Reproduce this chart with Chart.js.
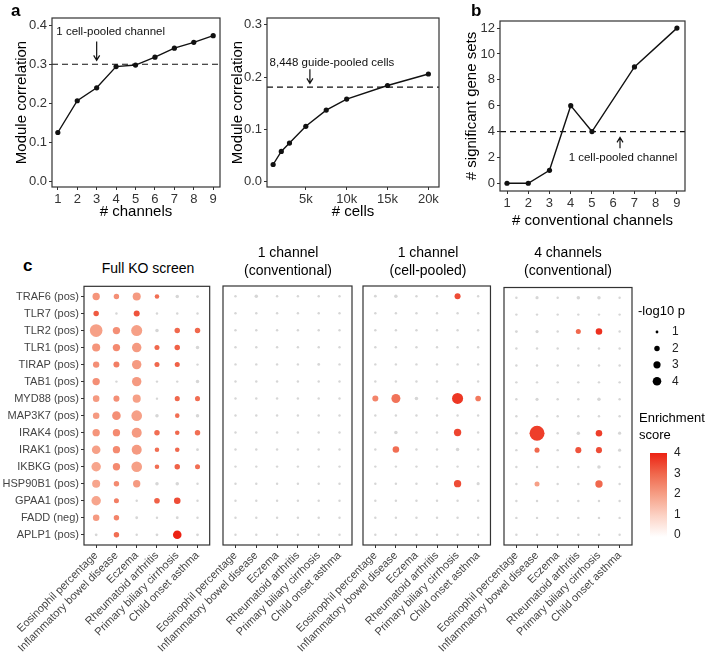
<!DOCTYPE html>
<html lang="en">
<head>
<meta charset="UTF-8">
<title>Module correlation and gene set enrichment</title>
<script src="https://cdn.jsdelivr.net/npm/chart.js"></script>
<style>
  body { margin: 0; background: #fff; font-family: 'Liberation Sans', Arial, sans-serif; }
  #fig { position: relative; width: 708px; height: 658px; overflow: hidden; }
  canvas { position: absolute; }
  .tag { position: absolute; font-weight: bold; font-size: 17px; color: #000; }
  .ttl { position: absolute; font-size: 14px; line-height: 18px; text-align: center; white-space: nowrap; transform: translateX(-50%); color: #000; }
</style>
</head>
<body>
<div id="fig">
  <canvas id="aLeft" width="230" height="224" style="left:0;top:0"></canvas>
  <canvas id="aRight" width="222" height="224" style="left:226px;top:0"></canvas>
  <canvas id="bChart" width="240" height="233" style="left:458px;top:0"></canvas>
  <canvas id="c1" width="216" height="378" style="left:0;top:280px"></canvas>
  <canvas id="c2" width="233" height="378" style="left:123px;top:280px"></canvas>
  <canvas id="c3" width="233" height="378" style="left:263px;top:280px"></canvas>
  <canvas id="c4" width="304" height="378" style="left:404px;top:280px"></canvas>

  <div class="tag" style="left:11px;top:1px">a</div>
  <div class="tag" style="left:471px;top:1px">b</div>
  <div class="tag" style="left:23px;top:256px">c</div>
  <div class="ttl" style="left:148px;top:259px">Full KO screen</div>
  <div class="ttl" style="left:288px;top:243px">1 channel<br>(conventional)</div>
  <div class="ttl" style="left:428px;top:243px">1 channel<br>(cell-pooled)</div>
  <div class="ttl" style="left:568px;top:243px">4 channels<br>(conventional)</div>
</div>

<script>
// ---- panel a ----
const channels = [1, 2, 3, 4, 5, 6, 7, 8, 9];
const corrByChannels = [0.126, 0.207, 0.240, 0.294, 0.298, 0.318, 0.341, 0.356, 0.373];
const cellPooledCorr = 0.3;

const cellCounts = [1000, 2000, 3000, 5000, 7500, 10000, 15000, 20000];
const corrByCells = [0.033, 0.058, 0.074, 0.106, 0.137, 0.158, 0.184, 0.206];
const guidePooledCorr = 0.181;

// ---- panel b ----
const convChannels = [1, 2, 3, 4, 5, 7, 9];
const sigGeneSets = [0, 0, 1, 6, 4, 9, 12];
const cellPooledSig = 4;

// ---- panel c ----
const genes = ['TRAF6 (pos)', 'TLR7 (pos)', 'TLR2 (pos)', 'TLR1 (pos)', 'TIRAP (pos)', 'TAB1 (pos)',
  'MYD88 (pos)', 'MAP3K7 (pos)', 'IRAK4 (pos)', 'IRAK1 (pos)', 'IKBKG (pos)', 'HSP90B1 (pos)',
  'GPAA1 (pos)', 'FADD (neg)', 'APLP1 (pos)'];
const traits = ['Eosinophil percentage', 'Inflammatory bowel disease', 'Eczema',
  'Rheumatoid arthritis', 'Primary biliary cirrhosis', 'Child onset asthma'];

// -log10 p, one row per gene, one column per trait
const fullKoLogP = [
  [3.1, 2.0, 3.6, 1.6, 1.2, 1.0],
  [2.0, 0.8, 2.3, 0.7, 0.8, 0.8],
  [7.9, 3.1, 6.2, 1.2, 2.0, 2.0],
  [3.6, 3.1, 4.7, 1.8, 2.0, 1.2],
  [2.5, 2.3, 4.7, 1.8, 1.8, 0.8],
  [3.1, 0.8, 4.7, 0.8, 0.8, 1.2],
  [2.6, 2.3, 3.6, 0.9, 1.8, 1.8],
  [2.6, 4.0, 5.8, 1.2, 1.6, 1.2],
  [3.1, 3.1, 5.2, 2.0, 1.6, 2.0],
  [4.0, 3.1, 5.2, 1.6, 1.6, 1.0],
  [4.7, 3.1, 5.8, 1.6, 2.0, 1.8],
  [3.6, 2.0, 3.1, 1.2, 1.2, 0.9],
  [4.7, 1.8, 0.9, 2.1, 2.6, 0.8],
  [2.6, 2.0, 1.0, 0.9, 1.0, 0.9],
  [1.0, 2.0, 0.9, 1.0, 4.0, 1.0]
];
// enrichment score, null = not significant (grey)
const fullKoScore = [
  [2.2, 2.3, 2.1, 2.9, null, null],
  [3.2, null, 3.3, null, null, null],
  [2.0, 2.3, 2.0, null, 3.0, 3.0],
  [2.2, 2.4, 2.1, 3.0, 3.1, null],
  [2.3, 2.6, 2.1, 3.0, 3.1, null],
  [2.3, null, 2.1, null, null, null],
  [2.1, 2.3, 2.0, null, 3.0, 2.9],
  [2.1, 2.3, 2.0, null, 2.9, null],
  [2.2, 2.4, 2.1, 2.9, 3.0, 2.9],
  [2.0, 2.4, 2.1, 2.9, 3.0, null],
  [1.9, 2.4, 2.0, 2.9, 3.1, 2.9],
  [1.9, 2.4, 2.1, null, null, null],
  [1.9, 2.6, null, 3.1, 3.4, null],
  [2.1, 2.5, null, null, null, null],
  [null, 2.9, null, null, 4.0, null]
];

const conv1LogP = [
  [0.9, 1.2, 0.9, 0.9, 0.9, 0.9],
  [0.8, 0.9, 0.8, 0.9, 0.8, 0.8],
  [0.8, 0.9, 0.8, 0.8, 0.9, 0.8],
  [0.8, 0.8, 0.8, 0.8, 0.8, 0.8],
  [0.8, 0.9, 0.8, 0.8, 1.0, 0.8],
  [0.8, 0.8, 0.8, 0.8, 0.8, 0.8],
  [0.8, 0.9, 0.8, 0.8, 0.8, 0.8],
  [0.8, 0.8, 0.8, 0.8, 0.8, 0.8],
  [0.8, 0.8, 0.8, 0.8, 0.8, 0.8],
  [0.8, 0.9, 0.8, 0.8, 0.8, 0.8],
  [0.8, 0.8, 0.8, 0.8, 0.8, 0.8],
  [0.8, 0.8, 0.8, 0.8, 0.8, 0.8],
  [0.8, 0.8, 0.8, 0.8, 0.8, 0.8],
  [0.8, 0.8, 0.8, 0.8, 0.8, 0.8],
  [0.8, 0.8, 0.8, 0.8, 0.8, 0.8]
];
const conv1Score = [
  [null, null, null, null, null, null],
  [null, null, null, null, null, null],
  [null, null, null, null, null, null],
  [null, null, null, null, null, null],
  [null, null, null, null, null, null],
  [null, null, null, null, null, null],
  [null, null, null, null, null, null],
  [null, null, null, null, null, null],
  [null, null, null, null, null, null],
  [null, null, null, null, null, null],
  [null, null, null, null, null, null],
  [null, null, null, null, null, null],
  [null, null, null, null, null, null],
  [null, null, null, null, null, null],
  [null, null, null, null, null, null]
];

const pooled1LogP = [
  [1.0, 1.2, 0.8, 0.8, 2.3, 0.8],
  [0.8, 0.8, 0.8, 0.8, 0.8, 0.8],
  [0.8, 0.8, 0.8, 0.8, 0.8, 0.8],
  [0.8, 0.8, 0.8, 0.8, 0.8, 0.8],
  [0.8, 0.8, 0.8, 0.8, 0.8, 0.8],
  [0.8, 0.8, 0.8, 0.8, 0.8, 0.8],
  [2.3, 4.3, 1.2, 0.9, 6.2, 2.1],
  [0.8, 0.8, 0.8, 0.8, 0.8, 0.8],
  [0.8, 1.2, 0.8, 0.8, 3.1, 0.8],
  [0.8, 2.6, 0.8, 0.8, 1.2, 0.8],
  [0.8, 0.8, 0.8, 0.8, 0.8, 0.8],
  [0.8, 0.8, 0.8, 0.8, 3.1, 1.1],
  [0.8, 0.8, 0.8, 0.8, 0.8, 0.8],
  [0.8, 0.8, 0.8, 0.8, 0.8, 0.8],
  [0.8, 0.8, 0.8, 0.8, 0.8, 0.8]
];
const pooled1Score = [
  [null, null, null, null, 3.4, null],
  [null, null, null, null, null, null],
  [null, null, null, null, null, null],
  [null, null, null, null, null, null],
  [null, null, null, null, null, null],
  [null, null, null, null, null, null],
  [2.5, 2.8, null, null, 3.7, 2.7],
  [null, null, null, null, null, null],
  [null, null, null, null, 3.5, null],
  [null, 2.9, null, null, null, null],
  [null, null, null, null, null, null],
  [null, null, null, null, 3.4, null],
  [null, null, null, null, null, null],
  [null, null, null, null, null, null],
  [null, null, null, null, null, null]
];

const conv4LogP = [
  [0.9, 1.1, 0.9, 1.2, 1.2, 0.9],
  [0.8, 0.8, 0.8, 0.8, 0.8, 0.8],
  [1.0, 1.1, 0.9, 1.8, 2.6, 0.9],
  [0.8, 0.8, 0.8, 0.8, 0.8, 0.8],
  [0.8, 0.8, 0.8, 0.8, 0.8, 0.8],
  [0.8, 0.8, 0.8, 0.8, 0.8, 0.8],
  [0.8, 1.1, 0.8, 0.9, 1.2, 0.8],
  [0.8, 0.8, 0.8, 0.8, 0.8, 0.8],
  [1.0, 10.9, 0.8, 1.2, 2.6, 1.1],
  [0.9, 1.8, 0.8, 2.3, 2.3, 1.1],
  [0.8, 0.8, 0.8, 0.8, 1.2, 0.8],
  [0.8, 1.8, 0.8, 0.9, 3.1, 0.8],
  [0.8, 0.8, 0.8, 0.8, 0.8, 0.8],
  [0.8, 0.8, 0.8, 0.8, 0.8, 0.8],
  [0.8, 0.8, 0.8, 0.8, 0.8, 0.8]
];
const conv4Score = [
  [null, null, null, null, null, null],
  [null, null, null, null, null, null],
  [null, null, null, 3.0, 3.8, null],
  [null, null, null, null, null, null],
  [null, null, null, null, null, null],
  [null, null, null, null, null, null],
  [null, null, null, null, null, null],
  [null, null, null, null, null, null],
  [null, 3.6, null, null, 3.6, null],
  [null, 3.0, null, 3.3, 3.4, null],
  [null, null, null, null, null, null],
  [null, 2.0, null, null, 3.0, null],
  [null, null, null, null, null, null],
  [null, null, null, null, null, null],
  [null, null, null, null, null, null]
];

const sizeBreaks = [1, 2, 3, 4];
const scoreBreaks = [0, 1, 2, 3, 4];

// ---- styling ----
Chart.defaults.font.family = "'Liberation Sans', Arial, sans-serif";
Chart.defaults.color = '#333';
Chart.defaults.animation = false;
Chart.defaults.plugins.legend.display = false;
Chart.defaults.plugins.tooltip.enabled = false;

const ink = '#111';
const naGrey = '#d6d6d6';
const rampStops = ['#ffffff', '#fcd3c6', '#f6a087', '#f0684d', '#ec2213'];

function hexRgb(h) {
  return [1, 3, 5].map(i => parseInt(h.slice(i, i + 2), 16));
}
function scoreColour(v) {
  const t = Math.max(0, Math.min(4, v));
  const i = Math.min(3, Math.floor(t)), f = t - i;
  const a = hexRgb(rampStops[i]), b = hexRgb(rampStops[i + 1]);
  const c = a.map((x, k) => Math.round(x + (b[k] - x) * f));
  return `rgb(${c[0]},${c[1]},${c[2]})`;
}
// area-style size scale for -log10 p
function dotRadius(p) {
  return Math.sqrt(Math.max(1.5, 5.5 * p - 3.55));
}

function arrow(ctx, x, y1, y2) {
  const d = Math.sign(y2 - y1);
  ctx.beginPath();
  ctx.moveTo(x, y1); ctx.lineTo(x, y2);
  ctx.moveTo(x - 3, y2 - d * 5); ctx.lineTo(x, y2); ctx.lineTo(x + 3, y2 - d * 5);
  ctx.stroke();
}

// panel border, plus the arrow note on the line charts
const framePlugin = {
  id: 'frame',
  afterDatasetsDraw(chart, args, opts) {
    const { ctx, chartArea: a } = chart;
    ctx.save();
    ctx.strokeStyle = '#333';
    ctx.lineWidth = 1.2;
    ctx.strokeRect(a.left, a.top, a.right - a.left, a.bottom - a.top);
    const n = opts.note;
    if (n) {
      const xs = chart.scales.x, ys = chart.scales.y;
      ctx.strokeStyle = ink;
      ctx.lineWidth = 1.2;
      arrow(ctx, xs.getPixelForValue(n.arrowX), ys.getPixelForValue(n.arrowFrom), ys.getPixelForValue(n.arrowTo));
      ctx.fillStyle = ink;
      ctx.font = "11.5px 'Liberation Sans', Arial, sans-serif";
      ctx.textAlign = 'center';
      ctx.textBaseline = 'middle';
      ctx.fillText(n.text, xs.getPixelForValue(n.textX), ys.getPixelForValue(n.textY));
    }
    ctx.restore();
  }
};

function axisGrid() {
  return { display: true, drawOnChartArea: false, tickLength: 3, color: '#333', lineWidth: 1 };
}

function lineChart(id, c) {
  return new Chart(document.getElementById(id), {
    type: 'line',
    data: {
      datasets: [
        {
          data: c.xs.map((x, i) => ({ x: x, y: c.ys[i] })),
          borderColor: ink, backgroundColor: ink, borderWidth: 1.4,
          pointRadius: 2.6, pointBorderWidth: 0, tension: 0
        },
        {
          data: [{ x: c.xMin, y: c.ref }, { x: c.xMax, y: c.ref }],
          borderColor: ink, borderWidth: 1.2, borderDash: [6, 4], pointRadius: 0
        }
      ]
    },
    options: {
      responsive: false,
      devicePixelRatio: 1,
      layout: { padding: c.pad },
      scales: {
        x: {
          type: 'linear', min: c.xMin, max: c.xMax,
          afterBuildTicks: s => { s.ticks = c.xTicks.map(v => ({ value: v })); },
          afterFit: s => { s.height = c.xh; s.paddingLeft = 0; s.paddingRight = 0; },
          ticks: { callback: c.xFmt, font: { size: 13 }, padding: 2, maxRotation: 0, autoSkip: false },
          grid: axisGrid(), border: { display: false },
          title: { display: true, text: c.xTitle, color: '#000', font: { size: 15 }, padding: { top: 0, bottom: 3 } }
        },
        y: {
          min: c.yMin, max: c.yMax,
          afterBuildTicks: s => { s.ticks = c.yTicks.map(v => ({ value: v })); },
          afterFit: s => { s.width = c.yw; },
          ticks: { callback: c.yFmt, font: { size: 13 }, padding: 2 },
          grid: axisGrid(), border: { display: false },
          title: { display: true, text: c.yTitle, color: '#000', font: { size: 15 }, padding: { top: 0, bottom: 0 } }
        }
      },
      plugins: { frame: { note: c.note } }
    },
    plugins: [framePlugin]
  });
}

lineChart('aLeft', {
  xs: channels, ys: corrByChannels, ref: cellPooledCorr,
  xMin: 0.7, xMax: 9.35, yMin: -0.013, yMax: 0.418,
  xTicks: channels, yTicks: [0, 0.1, 0.2, 0.3, 0.4],
  xFmt: v => String(v), yFmt: v => v.toFixed(1),
  xTitle: '# channels', yTitle: 'Module correlation',
  pad: { left: 13, top: 18, right: 10, bottom: 0 }, yw: 39, xh: 37,
  note: { text: '1 cell-pooled channel', textX: 3.72, textY: 0.382, arrowX: 3, arrowFrom: 0.358, arrowTo: 0.31 }
});

lineChart('aRight', {
  xs: cellCounts, ys: corrByCells, ref: guidePooledCorr,
  xMin: 250, xMax: 21300, yMin: -0.01, yMax: 0.313,
  xTicks: [5000, 10000, 15000, 20000], yTicks: [0, 0.1, 0.2, 0.3],
  xFmt: v => (v / 1000) + 'k', yFmt: v => v.toFixed(1),
  xTitle: '# cells', yTitle: 'Module correlation',
  pad: { left: 3, top: 18, right: 9, bottom: 0 }, yw: 38, xh: 37,
  note: { text: '8,448 guide-pooled cells', textX: 8200, textY: 0.228, arrowX: 5500, arrowFrom: 0.215, arrowTo: 0.188 }
});

lineChart('bChart', {
  xs: convChannels, ys: sigGeneSets, ref: cellPooledSig,
  xMin: 0.67, xMax: 9.38, yMin: -0.6, yMax: 12.55,
  xTicks: channels, yTicks: [0, 2, 4, 6, 8, 10, 12],
  xFmt: v => String(v), yFmt: v => String(v),
  xTitle: '# conventional channels', yTitle: '# significant gene sets',
  pad: { left: 5, top: 21, right: 13, bottom: 0 }, yw: 37, xh: 42,
  note: { text: '1 cell-pooled channel', textX: 6.46, textY: 1.93, arrowX: 6.32, arrowFrom: 2.7, arrowTo: 3.55 }
});

// size and colour keys, drawn beside the last dot panel
const keyPlugin = {
  id: 'keys',
  afterDraw(chart) {
    const ctx = chart.ctx;
    const font = s => `${s}px 'Liberation Sans', Arial, sans-serif`;
    ctx.save();
    ctx.fillStyle = '#000';
    ctx.textBaseline = 'middle';
    ctx.textAlign = 'left';
    ctx.font = font(13);
    ctx.fillText('-log10 p', 234, 31);
    sizeBreaks.forEach((p, i) => {
      const y = 52 + i * 16.4;
      ctx.fillStyle = '#000';
      ctx.beginPath(); ctx.arc(253, y, dotRadius(p), 0, Math.PI * 2); ctx.fill();
      ctx.fillStyle = '#222';
      ctx.font = font(12);
      ctx.fillText(String(p), 268, y);
    });
    ctx.fillStyle = '#000';
    ctx.font = font(13);
    ctx.fillText('Enrichment', 235, 138);
    ctx.fillText('score', 235, 155);
    const top = 173, bot = 257, x0 = 246, w = 17;
    const g = ctx.createLinearGradient(0, bot, 0, top);
    rampStops.forEach((c, i) => g.addColorStop(i / 4, c));
    ctx.fillStyle = g;
    ctx.fillRect(x0, top, w, bot - top);
    ctx.fillStyle = '#222';
    ctx.font = font(12);
    scoreBreaks.forEach(v => {
      ctx.fillText(String(v), 270, bot - 2 - v * 20.5);
    });
    ctx.restore();
  }
};

function dotChart(id, logP, score, c) {
  const pts = [], cols = [];
  logP.forEach((row, i) => row.forEach((p, j) => {
    pts.push({ x: j, y: i, r: dotRadius(p) });
    cols.push(score[i][j] === null ? naGrey : scoreColour(score[i][j]));
  }));
  const plugins = [framePlugin];
  if (c.keys) plugins.push(keyPlugin);
  return new Chart(document.getElementById(id), {
    type: 'bubble',
    data: { datasets: [{ data: pts, backgroundColor: cols, borderWidth: 0, hoverRadius: 0 }] },
    options: {
      responsive: false,
      devicePixelRatio: 1,
      layout: { padding: c.pad },
      scales: {
        x: {
          type: 'linear', min: -0.6, max: 5.6,
          afterBuildTicks: s => { s.ticks = traits.map((t, i) => ({ value: i })); },
          afterFit: s => { s.height = 113; s.paddingLeft = 0; s.paddingRight = 0; },
          ticks: { callback: v => traits[v], font: { size: 11 }, color: '#444', padding: 1,
                   minRotation: 45, maxRotation: 45, autoSkip: false },
          grid: axisGrid(), border: { display: false }
        },
        y: {
          type: 'linear', min: -0.6, max: 14.6, reverse: true,
          display: c.showGenes,
          afterBuildTicks: s => { s.ticks = genes.map((g, i) => ({ value: i })); },
          afterFit: s => { s.width = c.showGenes ? 84 : 0; s.paddingTop = 0; s.paddingBottom = 0; },
          ticks: { callback: v => genes[v], font: { size: 11 }, color: '#444', padding: 2, autoSkip: false },
          grid: axisGrid(), border: { display: false }
        }
      },
      plugins: { frame: {} }
    },
    plugins: plugins
  });
}

dotChart('c1', fullKoLogP, fullKoScore, { pad: { left: 0, top: 6, right: 4, bottom: 0 }, showGenes: true });
dotChart('c2', conv1LogP, conv1Score, { pad: { left: 100, top: 6, right: 4, bottom: 0 }, showGenes: false });
dotChart('c3', pooled1LogP, pooled1Score, { pad: { left: 100, top: 6, right: 4, bottom: 0 }, showGenes: false });
dotChart('c4', conv4LogP, conv4Score, { pad: { left: 100, top: 6, right: 76, bottom: 0 }, showGenes: false, keys: true });
</script>
</body>
</html>
